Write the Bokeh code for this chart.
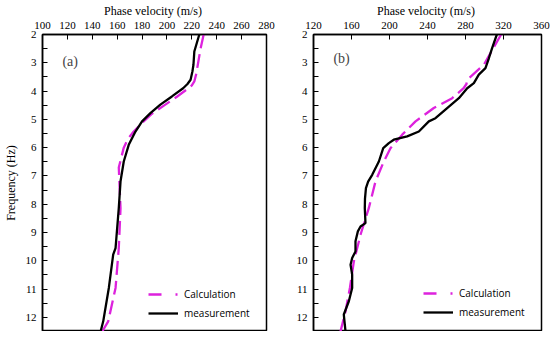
from bokeh.plotting import figure
from bokeh.layouts import row
from bokeh.models import Range1d, FixedTicker, Legend, LegendItem, Label
from bokeh.embed import file_html
from bokeh.resources import INLINE

# ---- data (frequency Hz, phase velocity m/s) ----
a_meas_f = [2.0, 2.6, 3.07, 3.3, 3.6, 3.75, 3.9, 4.19, 4.48, 4.78, 5.07, 5.43, 5.9, 6.49, 7.19, 8.14, 9.55, 9.78, 10.96, 12.14, 12.5]
a_meas_v = [226, 222, 221.3, 220.5, 219, 216.5, 213, 204, 194.7, 186.7, 180, 174.7, 169.3, 165.3, 162.7, 161.3, 158.7, 156.8, 153.3, 148.8, 146.7]
a_calc_f = [2.0, 2.5, 3.07, 3.4, 3.66, 3.8, 3.9, 4.2, 4.48, 4.8, 5.07, 5.43, 5.7, 6.0, 6.7, 8.14, 9.55, 10.96, 12.14, 12.5]
a_calc_v = [229.5, 227, 224.8, 223.5, 222, 220, 217.3, 208, 198.7, 188, 181.3, 173.3, 168.5, 165.3, 161.3, 162.7, 161.3, 158.7, 152.8, 148]

b_meas_f = [2.0, 2.48, 2.84, 3.19, 3.42, 3.72, 3.9, 4.25, 4.6, 4.96, 5.07, 5.43, 5.6, 5.72, 5.84, 6.02, 6.49, 6.96, 7.2, 7.43, 7.8, 8.14, 8.67, 8.79, 8.96, 9.31, 9.67, 9.9, 10.14, 10.49, 10.96, 11.43, 11.9, 12.5]
b_meas_v = [313, 308, 304.6, 301, 294, 288.8, 281.8, 273, 260.7, 248.4, 241.4, 230.9, 218.6, 204.5, 199.3, 193.4, 188.8, 181.8, 177.5, 175.2, 174.2, 174, 174.7, 169.5, 166.7, 164.2, 164.2, 160.7, 159, 160.7, 160.7, 157.2, 151.9, 153.7]
b_calc_f = [2.0, 3.07, 3.6, 3.75, 3.9, 4.25, 4.6, 5.07, 5.54, 6.02, 6.49, 7.19, 8.14, 9.08, 10.02, 10.96, 11.79, 12.5]
b_calc_v = [317.5, 299.3, 281.8, 281, 278, 266, 246.6, 227.4, 213.4, 201, 194, 185.3, 178.2, 169.5, 162.5, 158.3, 153.7, 148.4]

a_xticks = [100, 120, 140, 160, 180, 200, 220, 240, 260, 280]
b_xticks = [120, 160, 200, 240, 280, 320, 360]
y_ticks = [2, 3, 4, 5, 6, 7, 8, 9, 10, 11, 12]
series_names = ["Calculation", "measurement"]

MAGENTA = "#dd22dd"
SERIF = "Liberation Serif"


def make_panel(xr, xticks, mf, mv, cf, cv, tag, tag_pos, width, mbl, mbr, ylabel, leg_loc):
    p = figure(width=width, height=331, x_range=Range1d(*xr), y_range=Range1d(12.5, 2),
               x_axis_location="above", output_backend="svg", toolbar_location=None,
               min_border_left=mbl, min_border_right=mbr, min_border_top=33, min_border_bottom=0)
    p.grid.visible = False
    p.outline_line_color = "black"
    p.outline_line_width = 1.5
    p.background_fill_color = "white"
    p.border_fill_color = "white"

    xa = p.xaxis[0]
    xa.ticker = FixedTicker(ticks=xticks)
    xa.axis_label = "Phase velocity  (m/s)"
    ya = p.yaxis[0]
    ya.ticker = FixedTicker(ticks=y_ticks, minor_ticks=[t + 0.5 for t in y_ticks])
    if ylabel:
        ya.axis_label = "Frequency (Hz)"
    for ax in (xa, ya):
        ax.axis_line_color = "black"
        ax.axis_line_width = 1.5
        ax.major_tick_in = 5
        ax.major_tick_out = 0
        ax.minor_tick_in = 0
        ax.minor_tick_out = 0
        ax.major_tick_line_color = "black"
        ax.major_label_text_font = SERIF
        ax.major_label_text_font_size = "11px"
        ax.major_label_text_color = "black"
        ax.axis_label_text_font = SERIF
        ax.axis_label_text_font_size = "12px"
        ax.axis_label_text_font_style = "normal"
        ax.axis_label_text_color = "black"
    ya.minor_tick_in = 5
    ya.minor_tick_line_color = "black"
    xa.major_label_standoff = 6
    xa.axis_label_standoff = 1
    ya.major_label_standoff = 6
    ya.axis_label_standoff = 5

    r_calc = p.line(cv, cf, line_color=MAGENTA, line_width=2.3, line_dash="14 6")
    r_meas = p.line(mv, mf, line_color="black", line_width=2.3)
    r_leg = p.line(x=cv[:1], y=cf[:1], line_color=MAGENTA, line_width=2.3, line_dash="13 14 2 30")

    leg = Legend(items=[LegendItem(label=series_names[0], renderers=[r_leg]),
                        LegendItem(label=series_names[1], renderers=[r_meas])],
                 location=leg_loc, orientation="vertical")
    leg.label_text_font = "Open Sans"
    leg.label_text_font_size = "10px"
    leg.label_text_color = "black"
    leg.glyph_width = 30
    leg.glyph_height = 18
    leg.label_height = 18
    leg.label_standoff = 6
    leg.spacing = 1
    leg.padding = 0
    leg.margin = 0
    leg.border_line_alpha = 0
    leg.background_fill_alpha = 0
    p.add_layout(leg, "center")

    p.add_layout(Label(x=tag_pos[0], y=tag_pos[1], text=tag, text_font=SERIF,
                       text_font_size="14px", text_baseline="middle", text_align="left"))
    return p


p1 = make_panel((100, 280), a_xticks, a_meas_f, a_meas_v, a_calc_f, a_calc_v,
                "(a)", (116, 2.95), 280, 40, 14, True, (106, 9))
p2 = make_panel((120, 360), b_xticks, b_meas_f, b_meas_v, b_calc_f, b_calc_v,
                "(b)", (141, 2.85), 270, 33, 9, False, (110, 10))

layout = row(p1, p2)
open("out.html", "w").write(file_html(layout, INLINE))
